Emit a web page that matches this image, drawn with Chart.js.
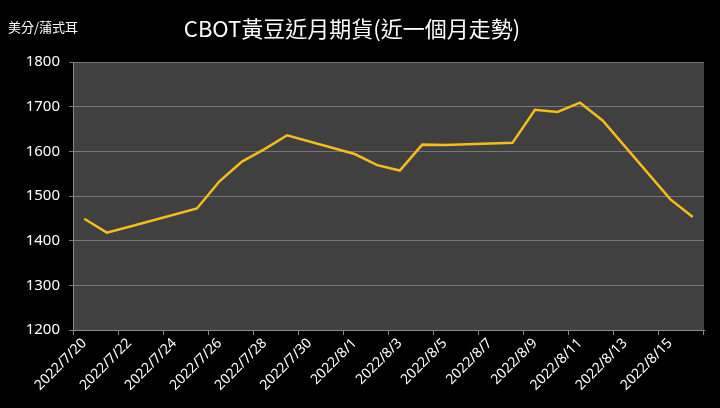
<!DOCTYPE html>
<html>
<head>
<meta charset="utf-8">
<script src="https://cdn.jsdelivr.net/npm/chart.js@4/dist/chart.umd.min.js"></script>
<style>
  html, body { margin: 0; padding: 0; background: #000; }
  #wrap { position: relative; width: 720px; height: 408px; }
  #unit {
    position: absolute; left: 8px; top: 17px;
    color: #fff; font: 13px "Noto Sans CJK TC", sans-serif;
  }
</style>
</head>
<body>
<div id="wrap">
  <canvas id="chart" width="720" height="408"></canvas>
  <div id="unit">美分/蒲式耳</div>
</div>
<script>
// one slot per calendar day, weekends have no quote
const days = [
  "2022/7/20", "2022/7/21", "2022/7/22", "2022/7/23", "2022/7/24", "2022/7/25",
  "2022/7/26", "2022/7/27", "2022/7/28", "2022/7/29", "2022/7/30", "2022/7/31",
  "2022/8/1", "2022/8/2", "2022/8/3", "2022/8/4", "2022/8/5", "2022/8/6",
  "2022/8/7", "2022/8/8", "2022/8/9", "2022/8/10", "2022/8/11", "2022/8/12",
  "2022/8/13", "2022/8/14", "2022/8/15", "2022/8/16"
];
const prices = [
  1449, 1418, 1431, null, null, 1472,
  1533, 1577, 1605, 1636, null, null,
  1594, 1569, 1557, 1615, 1614, null,
  null, 1619, 1693, 1688, 1709, 1669,
  null, null, 1493, 1453
];
const yTicks = [1200, 1300, 1400, 1500, 1600, 1700, 1800];

const plotBg = {
  id: "plotBg",
  beforeDraw(chart) {
    const { ctx, chartArea: a } = chart;
    ctx.save();
    ctx.fillStyle = "#404040";
    ctx.fillRect(a.left, a.top, a.right - a.left, a.bottom - a.top);
    ctx.restore();
  },
};

const ctx = document.getElementById("chart").getContext("2d");
const chart = new Chart(ctx, {
  type: "line",
  data: {
    labels: days,
    datasets: [
      {
        label: "CBOT黃豆",
        data: prices,
        borderColor: "#f4bd19",
        borderWidth: 2.5,
        pointRadius: 0,
        tension: 0,
        spanGaps: true,
      },
    ],
  },
  options: {
    responsive: false,
    animation: false,
    layout: { padding: { left: 0, right: 16, top: 0, bottom: 0 } },
    plugins: {
      legend: { display: false },
      tooltip: { enabled: false },
      title: {
        display: true,
        text: "CBOT黃豆近月期貨(近一個月走勢)",
        color: "#fff",
        font: { family: "'Noto Sans CJK TC'", size: 22, weight: "normal", lineHeight: 1.2 },
        padding: { top: 15, bottom: 20.6 },
      },
    },
    scales: {
      x: {
        type: "category",
        offset: true,
        afterFit: (s) => { s.height = 78; },
        grid: {
          offset: true,
          drawOnChartArea: false,
          drawTicks: true,
          tickLength: 5,
          color: (c) => (c.index === undefined || c.index % 2 === 0 ? "#8a8a8a" : "rgba(0,0,0,0)"),
        },
        border: { color: "#8a8a8a" },
        ticks: {
          autoSkip: false,
          minRotation: 45,
          maxRotation: 45,
          color: "#fff",
          padding: 0,
          font: { family: "'Noto Sans'", size: 14 },
          callback: (v, i) => (i % 2 === 0 ? days[i] : ""),
        },
      },
      y: {
        min: yTicks[0],
        max: yTicks[yTicks.length - 1],
        afterFit: (s) => { s.width = 73; },
        afterBuildTicks: (s) => { s.ticks = yTicks.map((v) => ({ value: v })); },
        grid: { color: "#777", tickLength: 4, drawTicks: true },
        border: { color: "#8a8a8a" },
        ticks: {
          color: "#fff",
          padding: 9,
          font: { family: "'Noto Sans'", size: 15 },
          callback: (v) => String(v),
        },
      },
    },
  },
  plugins: [plotBg],
});
</script>
</body>
</html>
